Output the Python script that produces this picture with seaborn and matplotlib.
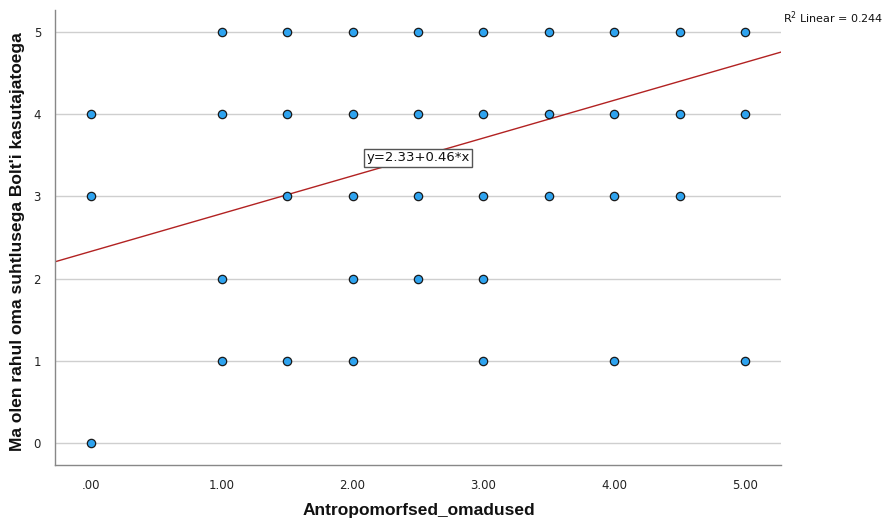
import numpy as np
import pandas as pd
import matplotlib
matplotlib.use("Agg")
import matplotlib.pyplot as plt
import seaborn as sns

x_vals = [1.0, 1.5, 2.0, 2.5, 3.0, 3.5, 4.0, 4.5, 5.0,
          0.0, 1.0, 1.5, 2.0, 2.5, 3.0, 3.5, 4.0, 4.5, 5.0,
          0.0, 1.5, 2.0, 2.5, 3.0, 3.5, 4.0, 4.5,
          1.0, 2.0, 2.5, 3.0,
          1.0, 1.5, 2.0, 3.0, 4.0, 5.0,
          0.0]
y_vals = [5] * 9 + [4] * 10 + [3] * 8 + [2] * 4 + [1] * 6 + [0]

intercept = 2.33
slope = 0.46
r2 = 0.244

x_ticks = [0, 1, 2, 3, 4, 5]
x_tick_labels = [".00", "1.00", "2.00", "3.00", "4.00", "5.00"]
y_ticks = [0, 1, 2, 3, 4, 5]

df = pd.DataFrame({"x": x_vals, "y": y_vals})

sns.set_theme(style="white")
plt.rcParams["font.family"] = ["DejaVu Sans"]

fig = plt.figure(figsize=(8.86, 5.21), dpi=100)
ax = fig.add_axes([0.062, 0.1075, 0.8195, 0.8735])

ax.set_xlim(-0.275, 5.275)
ax.set_ylim(-0.27, 5.27)

for yt in y_ticks:
    ax.axhline(yt, color="#cfcfcf", lw=1.0, zorder=0)

sns.scatterplot(data=df, x="x", y="y", ax=ax, s=36, color="#2ea3ef",
                edgecolor="#1a1a1a", linewidth=0.9, zorder=3)

ax.axline((0, intercept), slope=slope, color="#b22222", lw=1.0, zorder=2)

ax.text(2.5, 3.47, f"y={intercept:.2f}+{slope:.2f}*x", ha="center", va="center",
        fontsize=9.5, color="#111111", zorder=4,
        bbox=dict(boxstyle="square,pad=0.2", fc="white", ec="#555555", lw=1.0))

fig.text(783 / 886, 1 - 18 / 521, f"R$^2$ Linear = {r2:.3f}", ha="left", va="center",
         fontsize=8, color="#111111")

ax.set_xticks(x_ticks)
ax.set_xticklabels(x_tick_labels)
ax.set_yticks(y_ticks)
ax.tick_params(axis="both", length=0, labelsize=8.5, colors="#222222", pad=10)

for side in ["top", "right"]:
    ax.spines[side].set_visible(False)
for side in ["left", "bottom"]:
    ax.spines[side].set_color("#888888")
    ax.spines[side].set_linewidth(1.0)

label_font = dict(fontsize=12.5, fontweight="bold", family=["Liberation Sans"], color="#111111")
ax.set_xlabel("Antropomorfsed_omadused", **label_font)
ax.set_ylabel("Ma olen rahul oma suhtlusega Bolt'i kasutajatoega", **label_font)
# place label centres where the reference has them (pixels -> axes fraction)
ax.xaxis.set_label_coords((419 - 55) / 726, -(510 - 465) / 455)
ax.yaxis.set_label_coords(-(55 - 18) / 726, (465 - 242) / 455)
ax.xaxis.label.set_va("center")
ax.yaxis.label.set_va("center")

fig.savefig("out.png", dpi=100)
